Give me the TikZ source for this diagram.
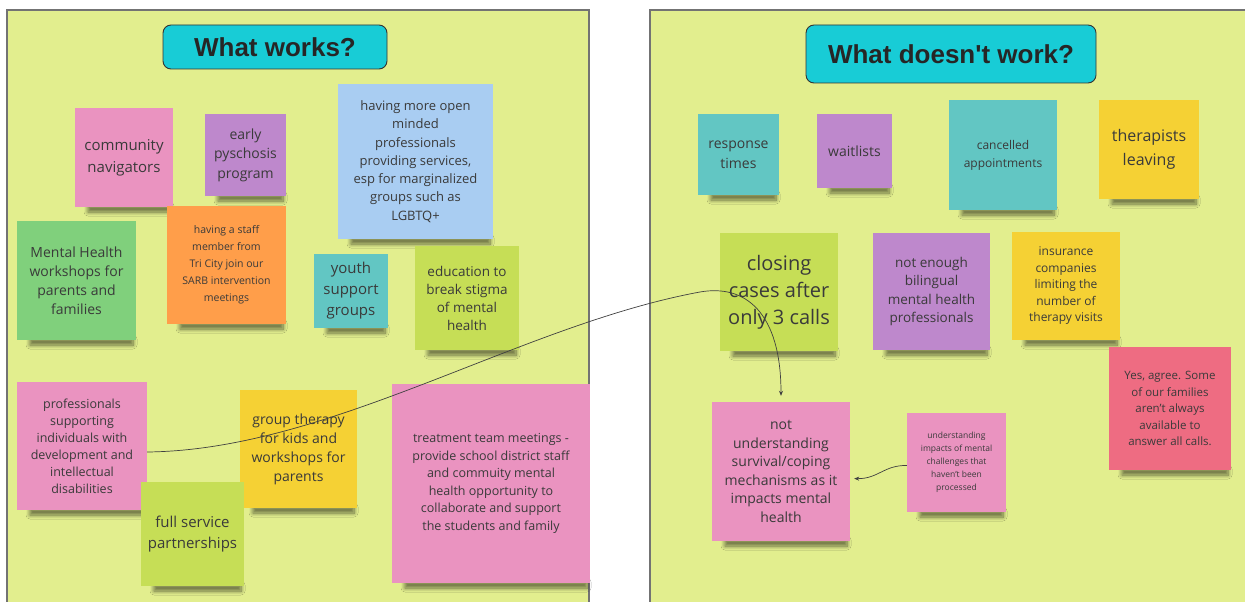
\documentclass[tikz,border=0pt]{standalone}
\usepackage{fontspec}
\setmainfont{Open Sans}
\newfontfamily\titlefont{Liberation Sans}
\usetikzlibrary{arrows.meta,shadows.blur}
\definecolor{panelc}{HTML}{E2EE8E}
\definecolor{titlec}{HTML}{18CCD6}
\definecolor{pinkc}{HTML}{EA93C0}
\definecolor{purplec}{HTML}{BE88CC}
\definecolor{bluec}{HTML}{A9CDF2}
\definecolor{greenc}{HTML}{80D07C}
\definecolor{orangec}{HTML}{FF9E4A}
\definecolor{tealc}{HTML}{62C6C3}
\definecolor{limec}{HTML}{C6DE56}
\definecolor{yellowc}{HTML}{F5D134}
\definecolor{redc}{HTML}{EE6C82}
\definecolor{notetext}{HTML}{3A3A3A}
\newcommand\nfs[2]{\fontsize{#1}{#2}\selectfont}
\tikzset{
  panel/.style={fill=panelc, draw=black!55, line width=1.2pt},
  titlebox/.style={fill=titlec, draw=black!80, line width=0.9pt, rounded corners=8pt,
    text=black!85, font=\titlefont\bfseries\nfs{26}{30}},
  note/.style={inner sep=2pt, align=center, text=notetext},
  noteshadow/.style={fill=panelc, blur shadow={shadow xshift=1pt, shadow yshift=-6pt,
      shadow blur radius=4pt, shadow opacity=55, shadow blur steps=8}},
  conn/.style={draw=black!75, line width=0.7pt, -{Stealth[length=5pt,width=4pt]}},
}
% #1 name, #2 colour, #3 cx, #4 cy, #5 width, #6 height, #7 font size, #8 leading, #9 text
\newcommand\sticky[9]{%
  \path[noteshadow] (#3-#5/2+12, #4+#6/2-7) rectangle (#3+#5/2-4, #4+#6/2-1);
  \node[note, fill=#2, minimum width=#5pt, minimum height=#6pt, font=\nfs{#7}{#8}] (#1) at (#3,#4) {#9};
}
\begin{document}
\begin{tikzpicture}[x=1pt,y=-1pt]
\useasboundingbox[fill=white] (0,0) rectangle (1245,602);
% panels
\path[panel] (7,10) rectangle (589,615);
\path[panel] (650,10) rectangle (1260,615);
\node[titlebox, minimum width=224pt, minimum height=44pt] (t1) at (275,47) {What works?};
\node[titlebox, minimum width=290pt, minimum height=58pt] (t2) at (951,54) {What doesn't work?};
% left notes
\sticky{n1}{pinkc}{124}{157.5}{98}{99}{15}{22}{community\\navigators}
\sticky{n2}{purplec}{245.5}{155}{81}{82}{14}{19.5}{early\\pyschosis\\program}
\sticky{n3}{bluec}{415.5}{161.5}{155}{155}{13}{18.3}{having more open\\minded\\professionals\\providing services,\\esp for marginalized\\groups such as\\LGBTQ+}
\sticky{n4}{greenc}{76.5}{280.5}{119}{119}{14}{19}{Mental Health\\workshops for\\parents and\\families}
\sticky{n5}{orangec}{226.5}{265}{119}{118}{10.5}{17}{having a staff\\member from\\Tri City join our\\SARB intervention\\meetings}
\sticky{n6}{tealc}{351}{291}{74}{74}{15}{21}{youth\\support\\groups}
\sticky{n7}{limec}{467}{298}{104}{104}{13.5}{18}{education to\\break stigma\\of mental\\health}
\sticky{n8}{pinkc}{82}{446}{130}{128}{12.5}{17}{professionals\\supporting\\individuals with\\development and\\intellectual\\disabilities}
\sticky{n9}{yellowc}{298.5}{449}{117}{118}{14}{19}{group therapy\\for kids and\\workshops for\\parents}
\sticky{n10}{limec}{192.5}{534}{103}{104}{15}{21}{full service\\partnerships}
\sticky{n11}{pinkc}{491}{483.5}{198}{199}{12.5}{17.5}{treatment team meetings -\\provide school district staff\\and commuity mental\\health opportunity to\\collaborate and support\\the students and family}
% right notes
\sticky{n12}{tealc}{738.5}{154.5}{81}{81}{14}{20}{response\\times}
\sticky{n13}{purplec}{854.5}{151}{75}{74}{14}{20}{waitlists}
\sticky{n14}{tealc}{1003}{155}{108}{110}{12}{18}{cancelled\\appointments}
\sticky{n15}{yellowc}{1149}{149.5}{100}{99}{16}{24}{therapists\\leaving}
\sticky{n16}{limec}{779}{292}{118}{118}{20}{27}{closing\\cases after\\only 3 calls}
\sticky{n17}{purplec}{931.5}{291.5}{117}{117}{13.5}{18.5}{not enough\\bilingual\\mental health\\professionals}
\sticky{n18}{yellowc}{1066}{286}{108}{108}{12}{16.5}{insurance\\companies\\limiting the\\number of\\therapy visits}
\sticky{n19}{redc}{1170}{408.5}{122}{123}{11.5}{16.5}{Yes, agree. Some\\of our families\\aren't always\\available to\\answer all calls.}
\sticky{n20}{pinkc}{781}{471.5}{138}{139}{14}{18.5}{not\\understanding\\survival/coping\\mechanisms as it\\impacts mental\\health}
\sticky{n21}{pinkc}{956.5}{462.5}{99}{99}{8.5}{13}{understanding\\impacts of mental\\challenges that\\haven't been\\processed}
% connectors
\draw[conn, shorten >=6pt] ([yshift=-6pt]n8.east) .. controls (330,450) and (520,325) .. (700,292)
  .. controls (745,284) and (781,312) .. (n20.north);
\draw[conn, shorten >=4pt] ([yshift=-3pt]n21.west) .. controls (884,465) and (878,479) .. ([yshift=-7pt]n20.east);
\end{tikzpicture}
\end{document}
